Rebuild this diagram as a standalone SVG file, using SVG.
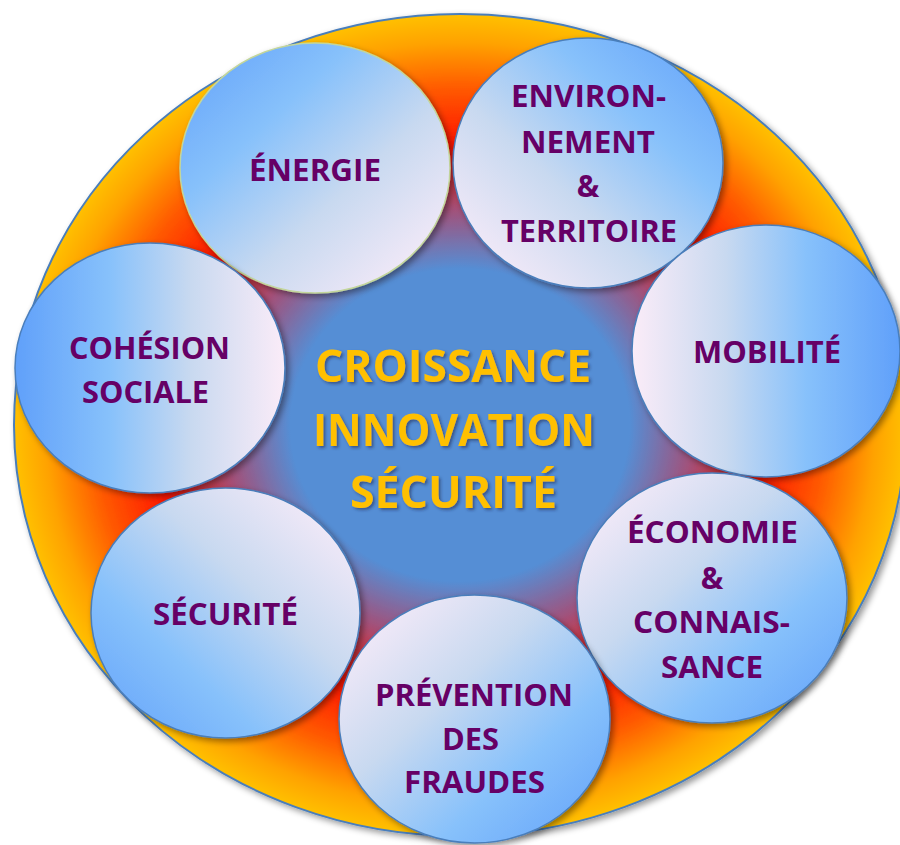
<svg xmlns="http://www.w3.org/2000/svg" width="900" height="845" viewBox="0 0 900 845">
<defs>
  <radialGradient id="bg" cx="0.5" cy="0.5" r="0.5" gradientUnits="objectBoundingBox">
    <stop offset="0" stop-color="#558ed5"/>
    <stop offset="0.38" stop-color="#558ed5"/>
    <stop offset="0.52" stop-color="#a0527c"/>
    <stop offset="0.68" stop-color="#ff1400"/>
    <stop offset="0.82" stop-color="#ff5a00"/>
    <stop offset="0.93" stop-color="#ffa200"/>
    <stop offset="1" stop-color="#ffc000"/>
  </radialGradient>
  <linearGradient id="gTL" x1="0" y1="0" x2="1" y2="1">
    <stop offset="0.1" stop-color="#f5eaf8"/>
    <stop offset="0.4" stop-color="#c8d9f0"/>
    <stop offset="0.68" stop-color="#87c1fb"/>
    <stop offset="1" stop-color="#60a0fa"/>
  </linearGradient>
  <linearGradient id="gBR" x1="1" y1="1" x2="0" y2="0">
    <stop offset="0.1" stop-color="#f5eaf8"/>
    <stop offset="0.4" stop-color="#c8d9f0"/>
    <stop offset="0.68" stop-color="#87c1fb"/>
    <stop offset="1" stop-color="#60a0fa"/>
  </linearGradient>
  <linearGradient id="gBL" x1="0" y1="1" x2="1" y2="0">
    <stop offset="0.1" stop-color="#f5eaf8"/>
    <stop offset="0.4" stop-color="#c8d9f0"/>
    <stop offset="0.68" stop-color="#87c1fb"/>
    <stop offset="1" stop-color="#60a0fa"/>
  </linearGradient>
  <linearGradient id="gTR" x1="1" y1="0" x2="0" y2="1">
    <stop offset="0.1" stop-color="#f5eaf8"/>
    <stop offset="0.4" stop-color="#c8d9f0"/>
    <stop offset="0.68" stop-color="#87c1fb"/>
    <stop offset="1" stop-color="#60a0fa"/>
  </linearGradient>
  <linearGradient id="gL" x1="0" y1="0" x2="1" y2="0">
    <stop offset="0" stop-color="#fbecf8"/>
    <stop offset="0.35" stop-color="#c8d9f0"/>
    <stop offset="0.65" stop-color="#87c1fb"/>
    <stop offset="1" stop-color="#60a0fa"/>
  </linearGradient>
  <linearGradient id="gR" x1="1" y1="0" x2="0" y2="0">
    <stop offset="0" stop-color="#fbecf8"/>
    <stop offset="0.35" stop-color="#c8d9f0"/>
    <stop offset="0.65" stop-color="#87c1fb"/>
    <stop offset="1" stop-color="#60a0fa"/>
  </linearGradient>
  <filter id="sh" x="-10%" y="-10%" width="125%" height="125%">
    <feDropShadow dx="3" dy="3" stdDeviation="3" flood-color="#000" flood-opacity="0.4"/>
  </filter>
  <filter id="tsh" x="-10%" y="-20%" width="125%" height="150%">
    <feDropShadow dx="2" dy="2" stdDeviation="1.5" flood-color="#1a2a50" flood-opacity="0.55"/>
  </filter>
</defs>
<style>
  .node { stroke: #4a7ebb; stroke-width: 1.5; filter: url(#sh); }
  .lbl { font-family: "Open Sans", "Liberation Sans", sans-serif; font-weight: bold; font-size: 30px; fill: #660066; text-anchor: middle; }
  .ctr { font-family: "Open Sans", "Liberation Sans", sans-serif; font-weight: bold; font-size: 45px; fill: #ffc000; text-anchor: middle; filter: url(#tsh); }
</style>

<g id="background">
  <ellipse cx="460" cy="425" rx="446" ry="411" fill="url(#bg)" stroke="#4a7ebb" stroke-width="2" filter="url(#sh)"/>
</g>

<g id="center">
  <text class="ctr" x="453" y="382" textLength="276" lengthAdjust="spacingAndGlyphs">CROISSANCE</text>
  <text class="ctr" x="454" y="446" textLength="282" lengthAdjust="spacingAndGlyphs">INNOVATION</text>
  <text class="ctr" x="453.5" y="508" textLength="207" lengthAdjust="spacingAndGlyphs">SÉCURITÉ</text>
</g>

<g id="energie">
  <ellipse class="node" cx="315" cy="168" rx="135" ry="125" fill="url(#gBR)" style="stroke:#c3d69b"/>
  <text class="lbl" x="315" y="181" textLength="132" lengthAdjust="spacingAndGlyphs">ÉNERGIE</text>
</g>

<g id="environnement">
  <ellipse class="node" cx="588" cy="163" rx="135" ry="125" fill="url(#gBL)"/>
  <text class="lbl" x="588.5" y="107" textLength="155" lengthAdjust="spacingAndGlyphs">ENVIRON-</text>
  <text class="lbl" x="588" y="153" textLength="134" lengthAdjust="spacingAndGlyphs">NEMENT</text>
  <text class="lbl" x="588" y="197">&amp;</text>
  <text class="lbl" x="589" y="242" textLength="176" lengthAdjust="spacingAndGlyphs">TERRITOIRE</text>
</g>

<g id="cohesion">
  <ellipse class="node" cx="150" cy="368" rx="135" ry="125" fill="url(#gR)"/>
  <text class="lbl" x="149.5" y="359" textLength="161" lengthAdjust="spacingAndGlyphs">COHÉSION</text>
  <text class="lbl" x="145.5" y="403" textLength="127" lengthAdjust="spacingAndGlyphs">SOCIALE</text>
</g>

<g id="mobilite">
  <ellipse class="node" cx="766" cy="351" rx="134" ry="126" fill="url(#gL)"/>
  <text class="lbl" x="767" y="363" textLength="148" lengthAdjust="spacingAndGlyphs">MOBILITÉ</text>
</g>

<g id="securite">
  <ellipse class="node" cx="225.5" cy="613" rx="134.5" ry="125" fill="url(#gTR)"/>
  <text class="lbl" x="225.5" y="625" textLength="145" lengthAdjust="spacingAndGlyphs">SÉCURITÉ</text>
</g>

<g id="economie">
  <ellipse class="node" cx="712" cy="598" rx="135" ry="125" fill="url(#gTL)"/>
  <text class="lbl" x="712.5" y="543" textLength="171" lengthAdjust="spacingAndGlyphs">ÉCONOMIE</text>
  <text class="lbl" x="712" y="589">&amp;</text>
  <text class="lbl" x="711.5" y="633" textLength="157" lengthAdjust="spacingAndGlyphs">CONNAIS-</text>
  <text class="lbl" x="712" y="678" textLength="102" lengthAdjust="spacingAndGlyphs">SANCE</text>
</g>

<g id="prevention">
  <ellipse class="node" cx="474.5" cy="719" rx="135.5" ry="124" fill="url(#gTL)"/>
  <text class="lbl" x="474" y="706" textLength="198" lengthAdjust="spacingAndGlyphs">PRÉVENTION</text>
  <text class="lbl" x="470.5" y="750" textLength="57" lengthAdjust="spacingAndGlyphs">DES</text>
  <text class="lbl" x="474.5" y="793" textLength="141" lengthAdjust="spacingAndGlyphs">FRAUDES</text>
</g>

<g id="connectors"/>
</svg>
